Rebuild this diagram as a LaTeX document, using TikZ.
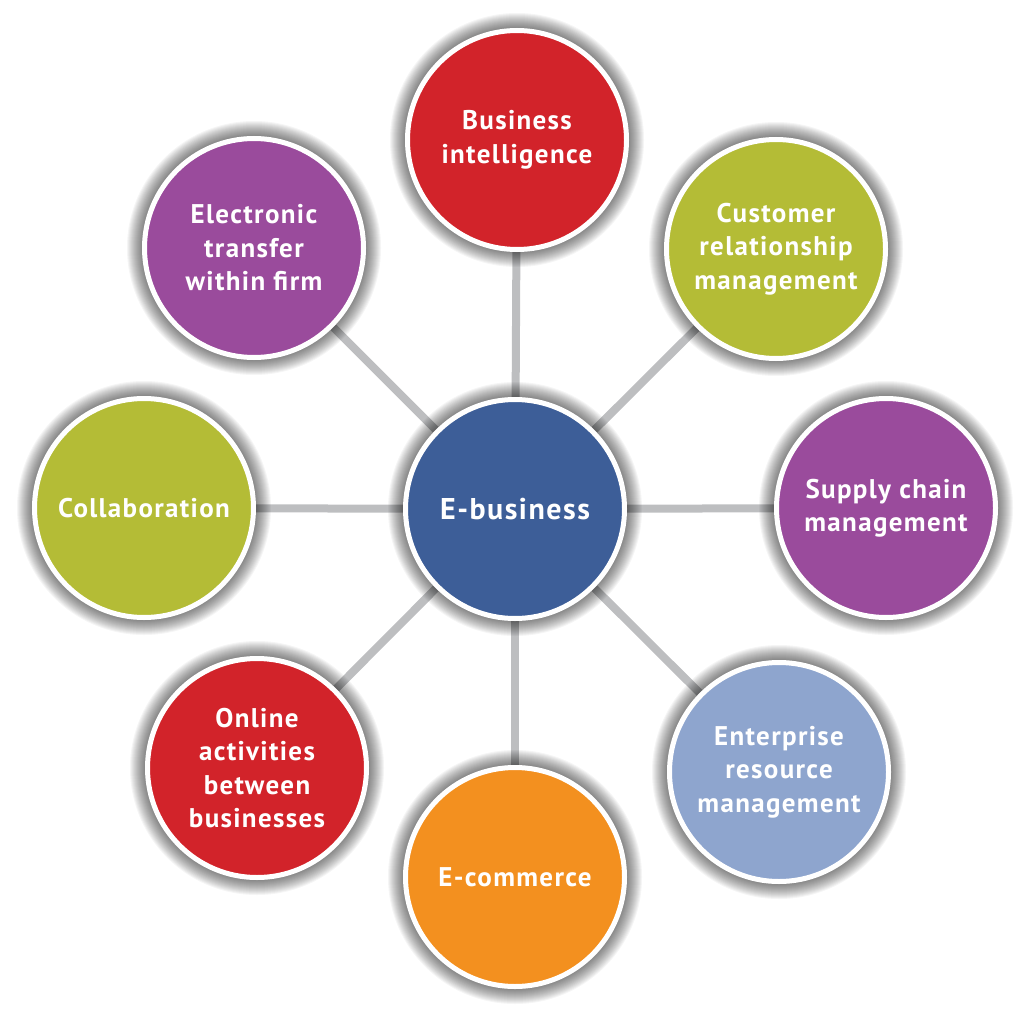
\documentclass[tikz,border=0pt]{standalone}
\usepackage{fontspec}
\setmainfont{PT Sans}[LetterSpace=5]
\pgfdeclarelayer{lines}
\pgfdeclarelayer{shadow}
\pgfsetlayers{lines,shadow,main}
\definecolor{cred}{HTML}{D2232A}
\definecolor{cgreen}{HTML}{B4BC36}
\definecolor{cpurple}{HTML}{9A4B9C}
\definecolor{cblue}{HTML}{3D5E98}
\definecolor{clblue}{HTML}{8EA5CE}
\definecolor{corange}{HTML}{F3901F}
\definecolor{cline}{HTML}{BDBEC0}
\tikzset{
  bubble/.style={circle, minimum size=219pt, inner sep=0pt, draw=white, line width=5pt,
    text=white, align=center, font=\fontsize{27}{33.5}\selectfont\bfseries},
  hub/.style={bubble, font=\fontsize{30}{36}\selectfont\bfseries},
  spoke/.style={draw=cline, line width=8pt}
}
\begin{document}
\begin{tikzpicture}[x=1pt,y=-1pt]
\useasboundingbox (0,0) rectangle (1024,1016);
\node[hub, fill=cblue] (eb) at (515,509) {E-business};
\node[bubble, fill=cred] (bi) at (517,140) {Business\\intelligence};
\node[bubble, fill=cgreen] (crm) at (776,249) {Customer\\relationship\\management};
\node[bubble, fill=cpurple] (scm) at (886,508) {Supply chain\\management};
\node[bubble, fill=clblue] (erm) at (779,772) {Enterprise\\resource\\management};
\node[bubble, fill=corange] (ec) at (515,877) {E-commerce};
\node[bubble, fill=cred] (oa) at (257,768) {Online\\activities\\between\\businesses};
\node[bubble, fill=cgreen] (col) at (144,508) {Collaboration};
\node[bubble, fill=cpurple] (et) at (254,248) {Electronic\\transfer\\within firm};
\begin{pgfonlayer}{lines}
\foreach \n in {bi,crm,scm,erm,ec,oa,col,et} \draw[spoke] (eb.center) -- (\n.center);
\end{pgfonlayer}
\begin{pgfonlayer}{shadow}
\foreach \n in {eb,bi,crm,scm,erm,ec,oa,col,et}
  \foreach \r in {127,126,...,113}
    \fill[black, opacity=0.04] (\n.center) circle (\r pt);
\end{pgfonlayer}
\end{tikzpicture}
\end{document}
